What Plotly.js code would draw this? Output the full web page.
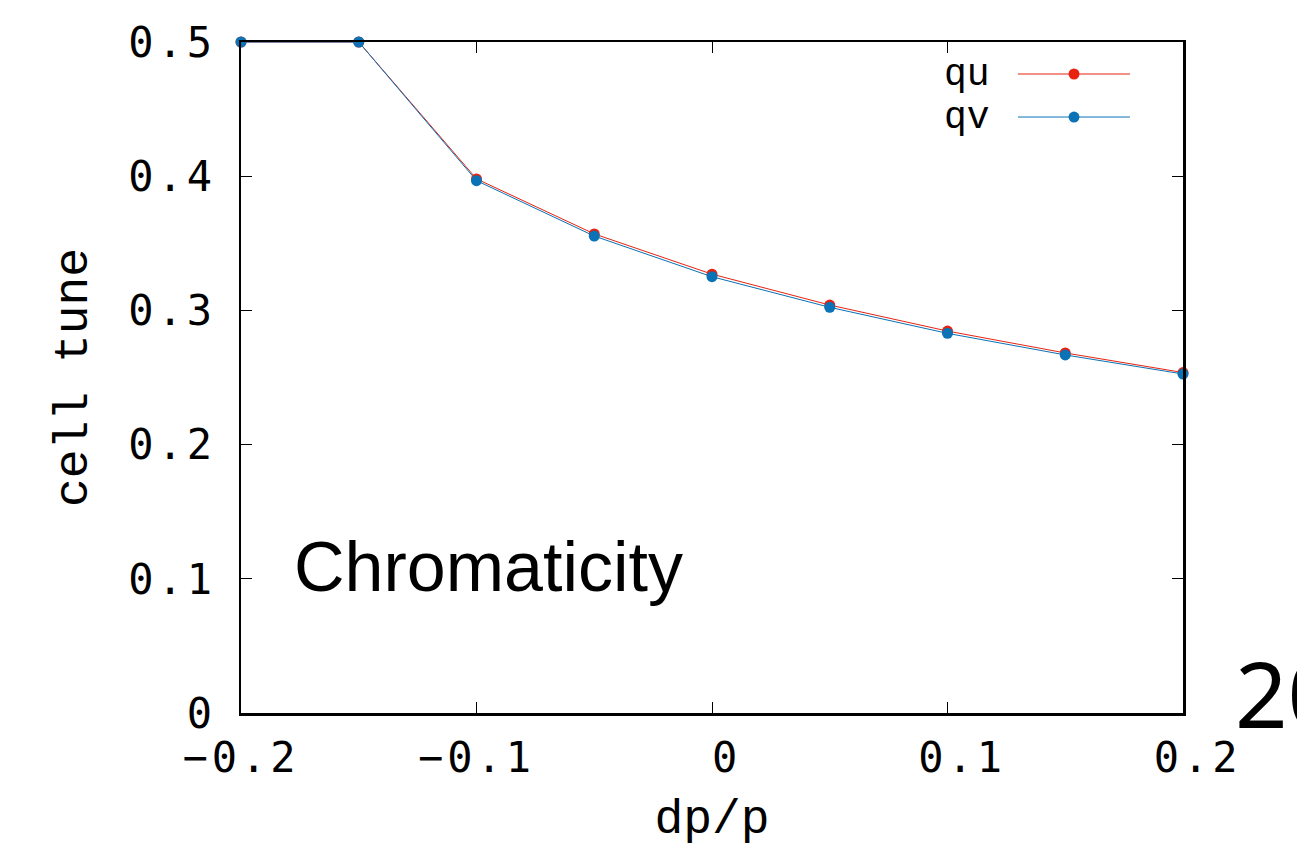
<!DOCTYPE html>
<html>
<head>
<meta charset="utf-8">
<script src="https://cdn.plot.ly/plotly-3.0.1.min.js"></script>
<style>
  html, body { margin: 0; padding: 0; background: #fff; }
  #chart { width: 1297px; height: 847px; }
  .xtick text, .ytick text { letter-spacing: 4px; }
</style>
</head>
<body>
<div id="chart"></div>
<script>
// Data
const dpp = [-0.2, -0.15, -0.1, -0.05, 0, 0.05, 0.1, 0.15, 0.2];
const qu  = [0.5, 0.5, 0.398, 0.357, 0.327, 0.304, 0.2846, 0.2683, 0.2537];
const qv  = [0.5, 0.5, 0.3967, 0.3554, 0.3251, 0.3023, 0.2829, 0.2668, 0.2526];
const seriesNames = ['qu', 'qv'];
const xTickVals = [-0.2, -0.1, 0, 0.1, 0.2];
const xTickText = ['\u22120.2', '\u22120.1', '\u00a00', '\u00a00.1', '\u00a00.2'];
const yTickVals = [0, 0.1, 0.2, 0.3, 0.4, 0.5];
const yTickText = ['0', '0.1', '0.2', '0.3', '0.4', '0.5'];

const colQu = '#e8220f';
const colQv = '#0a72b5';
const mono = "'Liberation Mono', 'Courier New', Courier, monospace";
const tickFont = "'DejaVu Sans Mono', monospace";

const traces = [
  { x: dpp, y: qu, name: seriesNames[0], mode: 'lines+markers', type: 'scatter',
    line: { color: colQu, width: 1 }, marker: { color: colQu, size: 11 }, cliponaxis: false },
  { x: dpp, y: qv, name: seriesNames[1], mode: 'lines+markers', type: 'scatter',
    line: { color: colQv, width: 1 }, marker: { color: colQv, size: 11 }, cliponaxis: false }
];

// legend (gnuplot style: label left, sample right)
const legY = [0.9523, 0.8882];
const legCols = [colQu, colQv];
const shapes = [];
const annotations = [];
seriesNames.forEach((n, i) => {
  shapes.push({ type: 'line', xref: 'paper', yref: 'paper', x0: 0.8248, x1: 0.9437,
    y0: legY[i], y1: legY[i], line: { color: legCols[i], width: 1 } });
  shapes.push({ type: 'circle', xref: 'paper', yref: 'paper',
    x0: 0.8843 - 0.0058, x1: 0.8843 + 0.0058, y0: legY[i] - 0.0082, y1: legY[i] + 0.0082,
    fillcolor: legCols[i], line: { color: legCols[i], width: 0 } });
  annotations.push({ xref: 'paper', yref: 'paper', x: 0.797, y: legY[i], xanchor: 'right',
    yanchor: 'middle', text: n, showarrow: false, font: { family: mono, size: 38, color: '#000' } });
});
annotations.push({ xref: 'paper', yref: 'paper', x: 0.054, y: 0.218, xanchor: 'left', yanchor: 'middle',
  text: 'Chromaticity', showarrow: false, font: { family: "'Liberation Sans', Arial, sans-serif", size: 70, color: '#000' } });
annotations.push({ xref: 'paper', yref: 'paper', x: 1.053, y: 0.03, xanchor: 'left', yanchor: 'middle',
  text: '20', showarrow: false, font: { family: "'Noto Sans', sans-serif", size: 92, color: '#000' } });

const axisCommon = {
  showline: true, linecolor: '#000', linewidth: 2.5, mirror: 'ticks',
  ticks: 'inside', ticklen: 11, tickwidth: 1, tickcolor: '#000',
  showgrid: false, zeroline: false,
  tickfont: { family: tickFont, size: 42, color: '#000' }
};

const layout = {
  width: 1297, height: 847,
  margin: { l: 241, r: 114, t: 42, b: 134 },
  paper_bgcolor: '#fff', plot_bgcolor: '#fff',
  showlegend: false,
  xaxis: Object.assign({}, axisCommon, {
    range: [-0.2, 0.2], tickmode: 'array', tickvals: xTickVals, ticktext: xTickText,
    ticklabelstandoff: 6,
    title: { text: 'dp/p', font: { family: mono, size: 48, color: '#000' }, standoff: 26 }
  }),
  yaxis: Object.assign({}, axisCommon, {
    range: [0, 0.5], tickmode: 'array', tickvals: yTickVals, ticktext: yTickText,
    ticklabelstandoff: 14,
    title: { text: 'cell tune', font: { family: mono, size: 48, color: '#000' }, standoff: 26 }
  }),
  shapes: shapes,
  annotations: annotations
};

Plotly.newPlot('chart', traces, layout, { displayModeBar: false, staticPlot: true });
</script>
</body>
</html>
